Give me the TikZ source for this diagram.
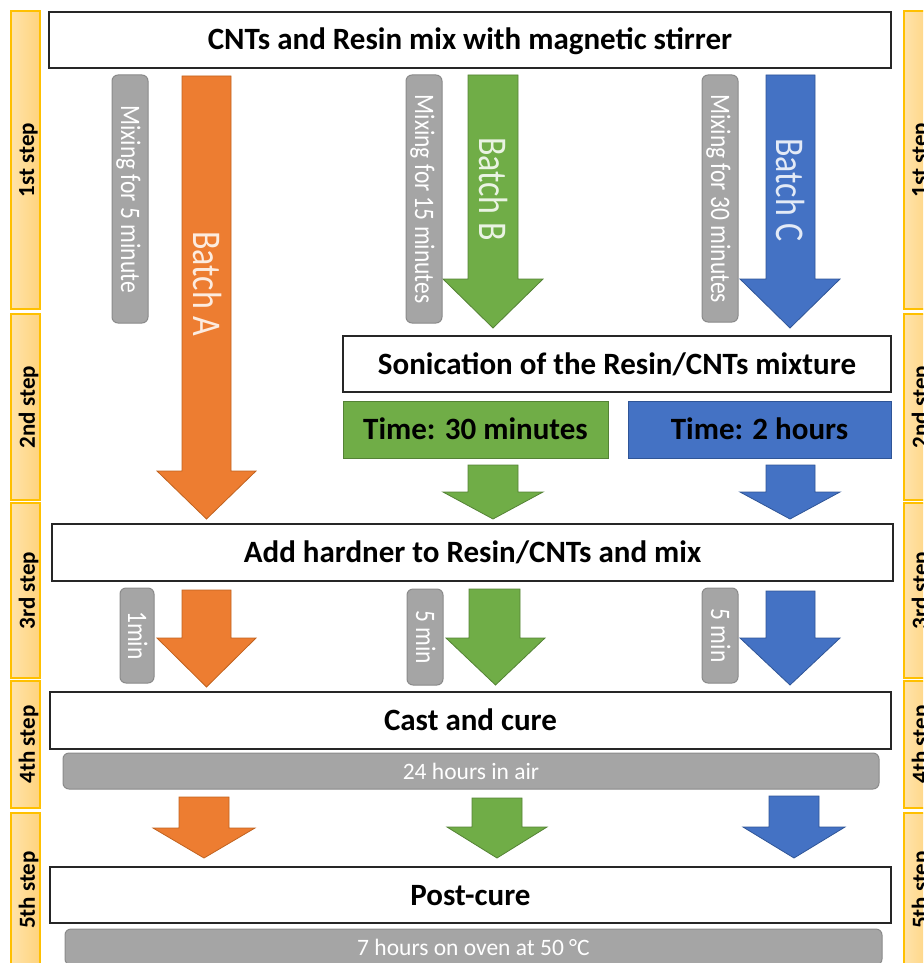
\documentclass[tikz,border=0pt]{standalone}
\usepackage{graphicx}
\usepackage{fontspec}
\setmainfont{Carlito}
\definecolor{orA}{HTML}{ED7D31}
\definecolor{orD}{HTML}{C0621F}
\definecolor{grn}{HTML}{70AD47}
\definecolor{grnD}{HTML}{548235}
\definecolor{blu}{HTML}{4472C4}
\definecolor{bluD}{HTML}{2F5597}
\definecolor{gry}{HTML}{A5A5A5}
\definecolor{gryD}{HTML}{8A8A8A}
\definecolor{stepL}{HTML}{FFE3AA}
\definecolor{stepR}{HTML}{FFD37C}
\definecolor{stepB}{HTML}{FFC000}
\definecolor{boxline}{HTML}{262626}
\newcommand\blockarr[8]{%
  \filldraw[#1] (#2,#6) -- (#3,#6) -- (#3,#7) -- (#5,#7) -- ({(#4+#5)/2},#8) -- (#4,#7) -- (#2,#7) -- cycle;}
\begin{document}
\begin{tikzpicture}[x=1pt,y=-1pt,
  whitebox/.style={draw=boxline, line width=1.5pt, fill=white, inner sep=0pt,
    font=\fontsize{31}{37}\selectfont\bfseries, text height=20pt, text depth=0pt},
  timebox/.style={inner sep=0pt, line width=1pt,
    font=\fontsize{31}{37}\selectfont\bfseries, text height=20pt, text depth=0pt},
  graybar/.style={fill=gry, draw=gryD, line width=1pt, rounded corners=6pt, text=white,
    font=\fontsize{23.5}{28}\selectfont, inner sep=0pt, text height=16pt, text depth=0pt},
  vgray/.style={graybar, rotate=-90, text height=18pt},
  stepbar/.style={draw=stepB, line width=1.5pt, left color=stepL, right color=stepR, inner sep=0pt},
  steptext/.style={font=\fontsize{23}{27}\selectfont\bfseries, inner sep=0pt},
  batchtext/.style={font=\fontsize{34}{40}\selectfont, inner sep=0pt, rotate=-90,
    text height=26pt, text depth=0pt},
  arrO/.style={fill=orA, draw=orD, line width=0.8pt},
  arrG/.style={fill=grn, draw=grnD, line width=0.8pt},
  arrB/.style={fill=blu, draw=bluD, line width=0.8pt}]
\useasboundingbox (0,0) rectangle (923,963);
\clip (0,0) rectangle (923,963);

% step bars left
\node[stepbar, minimum width=29pt, minimum height=298pt] (sl1) at (25.5,160) {};
\node[stepbar, minimum width=29pt, minimum height=186pt] (sl2) at (25.5,407) {};
\node[stepbar, minimum width=29pt, minimum height=175pt] (sl3) at (25.5,590.5) {};
\node[stepbar, minimum width=29pt, minimum height=127pt] (sl4) at (25.5,744.5) {};
\node[stepbar, minimum width=29pt, minimum height=154pt] (sl5) at (25.5,890) {};
\node[steptext] (tl1) at ([xshift=3pt]sl1.center) {\rotatebox{90}{1st step}};
\node[steptext] (tl2) at ([xshift=3pt]sl2.center) {\rotatebox{90}{2nd step}};
\node[steptext] (tl3) at ([xshift=3pt]sl3.center) {\rotatebox{90}{3rd step}};
\node[steptext] (tl4) at ([xshift=3pt]sl4.center) {\rotatebox{90}{4th step}};
\node[steptext] (tl5) at ([xshift=3pt]sl5.center) {\rotatebox{90}{5th step}};
% step bars right (cut by the frame)
\node[stepbar, minimum width=29pt, minimum height=298pt] (sr1) at (918.5,160) {};
\node[stepbar, minimum width=29pt, minimum height=186pt] (sr2) at (918.5,407) {};
\node[stepbar, minimum width=29pt, minimum height=175pt] (sr3) at (918.5,590.5) {};
\node[stepbar, minimum width=29pt, minimum height=127pt] (sr4) at (918.5,744.5) {};
\node[stepbar, minimum width=29pt, minimum height=154pt] (sr5) at (918.5,890) {};
\node[steptext] (tr1) at ([xshift=3pt]sr1.center) {\rotatebox{90}{1st step}};
\node[steptext] (tr2) at ([xshift=3pt]sr2.center) {\rotatebox{90}{2nd step}};
\node[steptext] (tr3) at ([xshift=3pt]sr3.center) {\rotatebox{90}{3rd step}};
\node[steptext] (tr4) at ([xshift=3pt]sr4.center) {\rotatebox{90}{4th step}};
\node[steptext] (tr5) at ([xshift=3pt]sr5.center) {\rotatebox{90}{5th step}};

% main boxes
\node[whitebox, minimum width=842pt, minimum height=56pt] (mix) at (470,40) {CNTs and Resin mix with magnetic stirrer};
\node[whitebox, minimum width=548pt, minimum height=56pt] (son) at (617,364) {Sonication of the Resin/CNTs mixture};
\node[timebox, fill=grn, draw=grnD, minimum width=265pt, minimum height=57pt] (t30) at (475.5,429.5) {Time: 30 minutes};
\node[timebox, fill=blu, draw=bluD, minimum width=263pt, minimum height=57pt] (t2) at (759.5,429.5) {Time: 2 hours};
\node[whitebox, minimum width=841pt, minimum height=57pt] (hard) at (472.5,552.5) {Add hardner to Resin/CNTs and mix};
\node[whitebox, minimum width=841pt, minimum height=57pt] (cast) at (470.5,720.5) {Cast and cure};
\node[graybar, minimum width=816pt, minimum height=36pt] (air) at (471,771) {24 hours in air};
\node[whitebox, minimum width=841pt, minimum height=56pt] (post) at (470.5,895) {Post-cure};
\node[graybar, minimum width=817pt, minimum height=36pt] (oven) at (473.5,947) {7 hours on oven at 50 °C};

% block arrows
\blockarr{arrO}{182}{231}{157}{256}{76}{471}{519}
\blockarr{arrG}{468}{518}{443}{543}{75}{279}{328}
\blockarr{arrB}{766}{815}{740}{840}{75}{279}{328}
\blockarr{arrG}{468}{518}{443}{543}{465}{492}{519}
\blockarr{arrB}{766}{815}{740}{840}{465}{492}{519}
\blockarr{arrO}{182}{231}{157}{256}{590}{638}{687}
\blockarr{arrG}{469}{520}{446}{545}{589}{638}{685}
\blockarr{arrB}{766}{815}{740}{840}{591}{638}{685}
\blockarr{arrO}{179}{229}{153}{255}{797}{828}{858}
\blockarr{arrG}{472}{522}{447}{547}{798}{827}{858}
\blockarr{arrB}{769}{819}{743}{845}{796}{827}{858}

% batch labels
\node[batchtext, text=white!85!orA] (ba) at (206,284) {\scalebox{1}[1.2]{Batch A}};
\node[batchtext, text=white!85!grn] (bb) at (492.5,189) {\scalebox{1}[1.2]{Batch B}};
\node[batchtext, text=white!85!blu] (bc) at (789,190) {\scalebox{1}[1.2]{Batch C}};

% gray vertical labels
\node[vgray, minimum width=248pt, minimum height=36pt] (g1) at (130,199) {\scalebox{1}[1.2]{Mixing for 5 minute}};
\node[vgray, minimum width=248pt, minimum height=36pt] (g2) at (424,199) {\scalebox{1}[1.2]{Mixing for 15 minutes}};
\node[vgray, minimum width=247pt, minimum height=36pt] (g3) at (720,198.5) {\scalebox{1}[1.2]{Mixing for 30 minutes}};
\node[vgray, minimum width=95pt, minimum height=34pt] (g4) at (137,635.5) {\scalebox{1}[1.2]{1min}};
\node[vgray, minimum width=96pt, minimum height=36pt] (g5) at (425,637) {\scalebox{1}[1.2]{5 min}};
\node[vgray, minimum width=95pt, minimum height=36pt] (g6) at (720,635.5) {\scalebox{1}[1.2]{5 min}};
\end{tikzpicture}
\end{document}
